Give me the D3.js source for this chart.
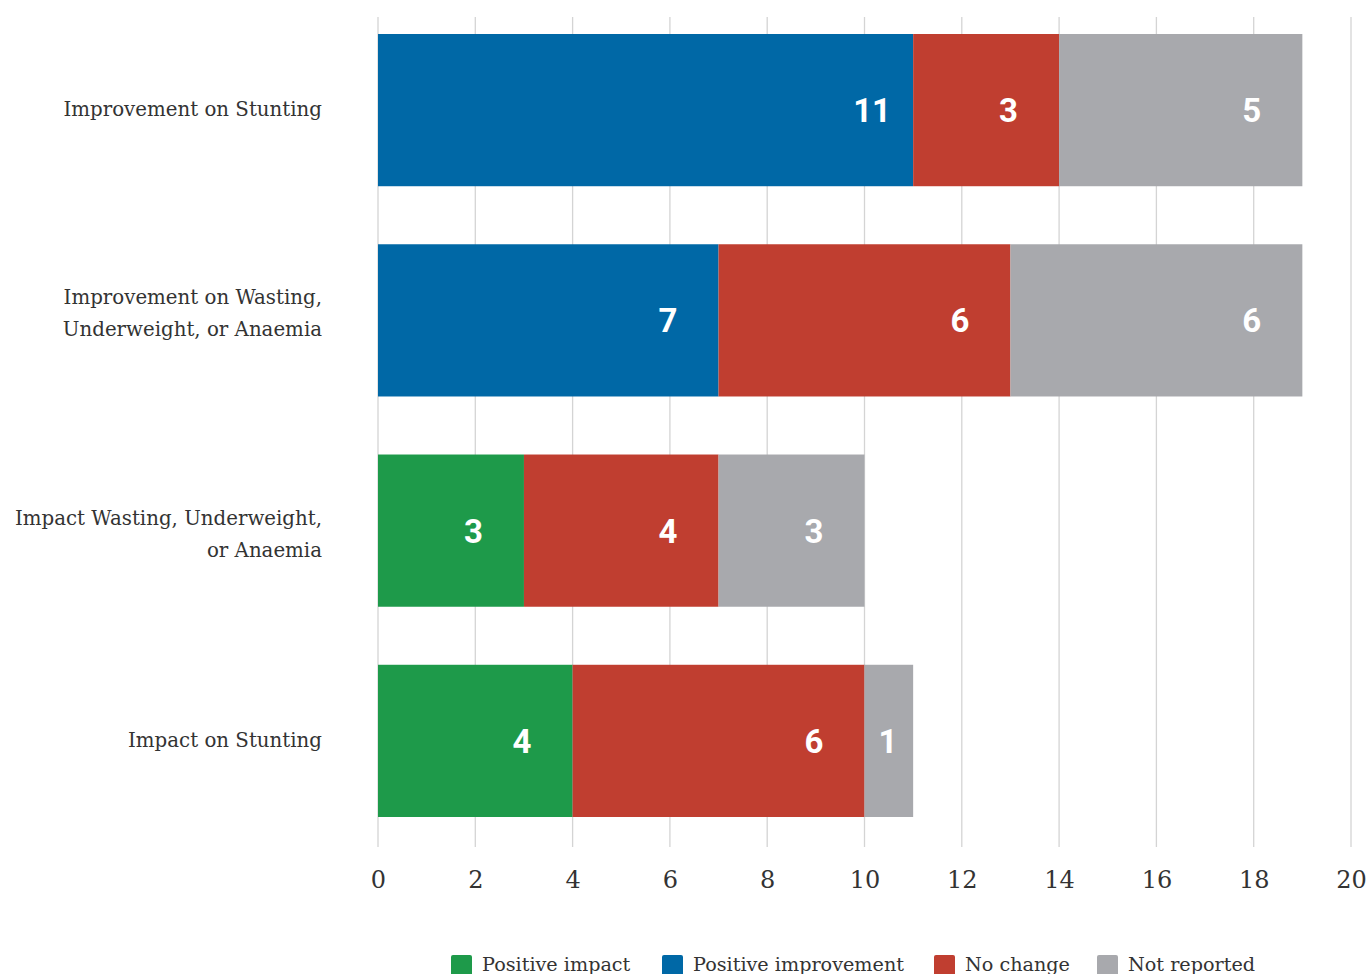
<!DOCTYPE html>
<html><head><meta charset="utf-8">
<script src="https://cdn.jsdelivr.net/npm/d3@7"></script>
<style>body{margin:0;background:#fff;overflow:hidden}</style>
</head><body>
<svg id="c" width="1368" height="974"></svg>
<script>
const categories = [
  ["Improvement on Stunting"],
  ["Improvement on Wasting,", "Underweight, or Anaemia"],
  ["Impact Wasting, Underweight,", "or Anaemia"],
  ["Impact on Stunting"]
];
const series = ["Positive impact", "Positive improvement", "No change", "Not reported"];
const colors = ["#1e9a4a", "#0068a6", "#c03e30", "#a8a9ad"];
const positiveImpact      = [0, 0, 3, 4];
const positiveImprovement = [11, 7, 0, 0];
const noChange            = [3, 6, 4, 6];
const notReported         = [5, 6, 3, 1];
const tickValues = [0, 2, 4, 6, 8, 10, 12, 14, 16, 18, 20];

const values = [positiveImpact, positiveImprovement, noChange, notReported];
const rows = categories.map((c, i) => {
  const r = {i};
  series.forEach((s, j) => r[s] = values[j][i]);
  return r;
});
const stack = d3.stack().keys(series)(rows);

const svg = d3.select("#c");
const x = d3.scaleLinear().domain([0, 20]).range([378, 1351]);
const y = d3.scaleBand().domain(d3.range(categories.length)).range([34, 817]).paddingInner(0.276).paddingOuter(0);

// gridlines
svg.append("g").selectAll("line").data(tickValues).join("line")
  .attr("x1", d => x(d)).attr("x2", d => x(d))
  .attr("y1", 17).attr("y2", 847)
  .attr("stroke", "#d4d4d4").attr("stroke-width", 1.3);

// axis labels
const ax = svg.append("g").attr("transform", "translate(0,847)")
  .call(d3.axisBottom(x).tickValues(tickValues).tickSize(0).tickPadding(0).tickFormat(d3.format("d")));
ax.select(".domain").remove();
ax.selectAll("text").attr("y", 24).attr("font-family", "DejaVu Serif").attr("font-size", 24).attr("fill", "#333");

// bars
const g = svg.append("g");
stack.forEach((layer, j) => {
  layer.forEach((d, i) => {
    if (d[1] - d[0] <= 0) return;
    g.append("rect")
      .attr("x", x(d[0])).attr("width", x(d[1]) - x(d[0]))
      .attr("y", y(i)).attr("height", y.bandwidth())
      .attr("fill", colors[j]);
    const x0 = x(d[0]), x1 = x(d[1]);
    const lx = Math.max(x1 - 60, x0 + 14);
    g.append("text")
      .attr("x", lx).attr("y", y(i) + y.bandwidth() / 2)
      .attr("dy", "0.36em")
      .attr("font-family", "Roboto").attr("font-weight", "bold").attr("font-size", 33)
      .attr("fill", "#fff")
      .text(d[1] - d[0]);
  });
});

// category labels
const labelShift = [0, -6, 4, 0];
categories.forEach((lines, i) => {
  const cy = y(i) + y.bandwidth() / 2 + labelShift[i];
  const lh = 32;
  const t = svg.append("text").attr("text-anchor", "end")
    .attr("font-family", "DejaVu Serif").attr("font-size", 19.8).attr("fill", "#333");
  lines.forEach((l, k) => {
    t.append("tspan").attr("x", 322)
      .attr("y", cy - (lines.length - 1) * lh / 2 + k * lh)
      .attr("dy", "0.3em").text(l);
  });
});

// legend
const legendX = [451, 662, 934, 1097];
const lg = svg.append("g");
series.forEach((s, j) => {
  lg.append("rect").attr("x", legendX[j]).attr("y", 955).attr("width", 21).attr("height", 21)
    .attr("rx", 2).attr("fill", colors[j]);
  lg.append("text").attr("x", legendX[j] + 31).attr("y", 971)
    .attr("font-family", "DejaVu Serif").attr("font-size", 19.2).attr("fill", "#333").text(s);
});
</script>
</body></html>
